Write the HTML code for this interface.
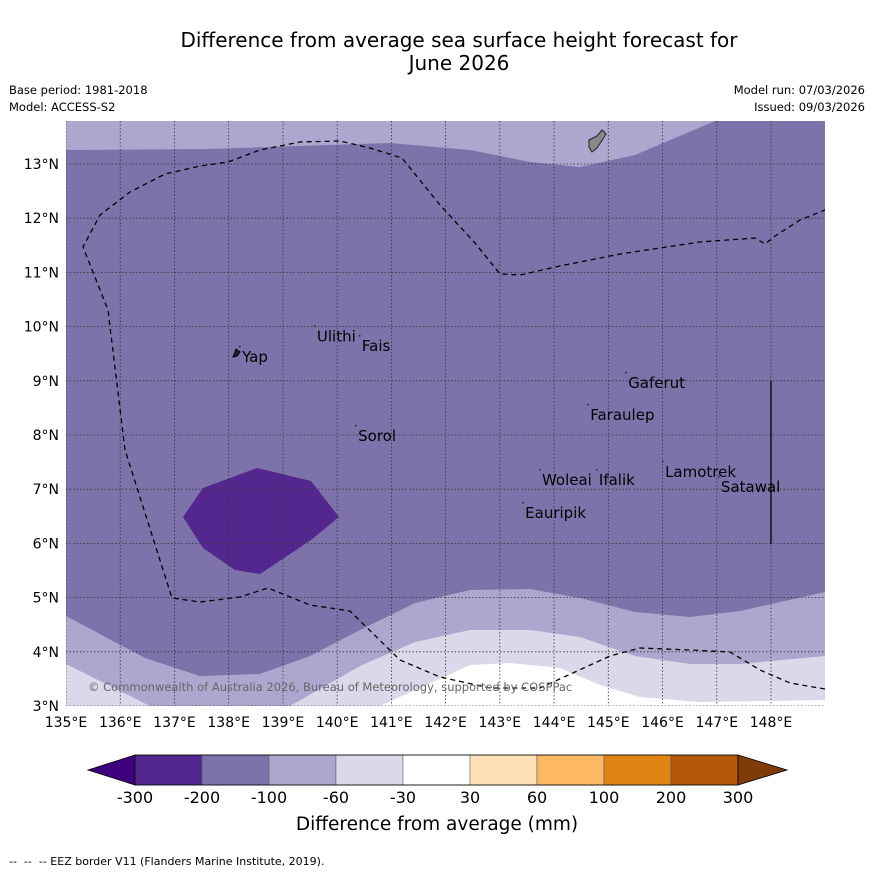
<!DOCTYPE html>
<html><head><meta charset="utf-8"><style>
body{margin:0;background:#fff;font-family:"Liberation Sans","DejaVu Sans",sans-serif}
svg text{font-family:"DejaVu Sans","Liberation Sans",sans-serif;white-space:pre}
</style></head><body>
<svg id="s" width="873" height="873" viewBox="0 0 873 873" xmlns="http://www.w3.org/2000/svg">
<text x="459" y="47" font-size="20" text-anchor="middle">Difference from average sea surface height forecast for</text>
<text x="459" y="70" font-size="20" text-anchor="middle">June 2026</text>
<text x="9" y="94" font-size="11.5">Base period: 1981-2018</text>
<text x="9" y="111" font-size="11.5">Model: ACCESS-S2</text>
<text x="865" y="94" font-size="11.5" text-anchor="end">Model run: 07/03/2026</text>
<text x="865" y="111" font-size="11.5" text-anchor="end">Issued: 09/03/2026</text>
<defs><clipPath id="c"><rect x="66" y="121" width="759" height="585"/></clipPath></defs>
<g id="map" clip-path="url(#c)"></g>
<g id="ax"></g>
<g id="cb"></g>
<text x="437" y="830" font-size="18.5" text-anchor="middle">Difference from average (mm)</text>
<text x="9" y="865" font-size="11" xml:space="preserve">--  --  -- EEZ border V11 (Flanders Marine Institute, 2019).</text>
</svg>
<script>
const lonTicks=[135,136,137,138,139,140,141,142,143,144,145,146,147,148];
const latTicks=[3,4,5,6,7,8,9,10,11,12,13];
const cbLabels=["-300","-200","-100","-60","-30","30","60","100","200","300"];
const cbColors=["#54278f","#7e72ab","#ada6cf","#d9d9ea","#ffffff","#fee0b6","#fdb863","#e08214","#b35806"];
const places=[["Ulithi",139.59,9.84],["Fais",140.42,9.66],["Yap",138.21,9.46],["Gaferut",145.33,8.98],["Faraulep",144.63,8.39],["Sorol",140.35,8.0],["Lamotrek",146.01,7.34],["Woleai",143.74,7.19],["Ifalik",144.79,7.19],["Satawal",147.04,7.06],["Eauripik",143.43,6.58]];
const X=lon=>66+(lon-135)*54.23, Y=lat=>706-(lat-3)*54.2;
const ns="http://www.w3.org/2000/svg";
function mk(p,t,a){const e=document.createElementNS(ns,t);for(const k in a)e.setAttribute(k,a[k]);p.appendChild(e);return e;}
const map=document.getElementById('map');
const shapes=[
["#7e72ab","66,121 825,121 825,706 66,706"],
["#ada6cf","66,121 715,121 635,155 580,167 530,162 470,150 390,143 210,149 66,150"],
["#ada6cf","66,616 145,658 200,676 260,674 310,656 360,630 415,603 470,590 530,589 580,598 635,612 690,617 740,611 825,592 825,706 66,706"],
["#d9d9ea","66,664 110,686 150,706 66,706"],
["#d9d9ea","290,706 360,666 415,642 470,630 530,630 580,637 635,656 690,664 740,664 825,656 825,706"],
["#ffffff","380,706 420,688 470,665 510,663 560,668 600,685 640,697 700,702 825,700 825,706"],
["#54278f","183,517 203,488 257,468 311,481 339,517 311,540 260,574 235,570 203,548"]];
shapes.forEach((s,i)=>{const e=mk(map,'polygon',{points:s[1],fill:s[0]});

});
lonTicks.forEach(l=>{const e=mk(map,'line',{x1:X(l),x2:X(l),y1:121,y2:706,stroke:'#333','stroke-width':0.8,'stroke-dasharray':'1.5,2'});

});
latTicks.forEach(l=>{const e=mk(map,'line',{x1:66,x2:825,y1:Y(l),y2:Y(l),stroke:'#333','stroke-width':0.8,'stroke-dasharray':'1.5,2'});

});
const eez=mk(map,'polyline',{fill:'none',stroke:'#000','stroke-width':1.3,'stroke-dasharray':'5,4',points:"825,689 790,683 760,670 730,652 690,650 640,648 610,656 540,688 490,688 440,677 400,660 350,611 310,605 268,588 240,597 200,602 172,598 125,450 108,310 83,247 100,215 130,192 165,174 200,166 228,162 260,150 300,142 340,141 370,148 402,158 440,205 475,243 500,274 520,275 560,266 620,254 700,242 755,238 765,244 775,236 800,220 825,210"});


const vl=mk(map,'line',{x1:771,x2:771,y1:381,y2:544,stroke:'#111','stroke-width':1.5});


const guam=mk(map,'polygon',{points:"589,140 597,136 602,130 606,134 601,142 597,148 592,152 589,147",fill:'#888',stroke:'#222','stroke-width':1});


const yap=mk(map,'polygon',{points:"233,357 236,349 240,352 237,356",fill:'#222',stroke:'#000','stroke-width':1});


places.forEach(p=>{const t=mk(map,'text',{x:X(p[1])+2,y:Y(p[2])+6,'font-size':15});t.textContent=p[0];


const d=mk(map,'rect',{x:X(p[1])-1,y:Y(p[2])-10,width:1.5,height:1.5,fill:'#222'});

});
const cp=mk(map,'text',{x:88,y:691,'font-size':11.5,fill:'#666'});cp.textContent="© Commonwealth of Australia 2026, Bureau of Meteorology, supported by COSPPac";


const ax=document.getElementById('ax');
lonTicks.forEach(l=>{const t=mk(ax,'text',{x:X(l),y:727,'font-size':14,'text-anchor':'middle'});t.textContent=l+"°E";

});
latTicks.forEach(l=>{const t=mk(ax,'text',{x:59,y:Y(l)+5,'font-size':14,'text-anchor':'end'});t.textContent=l+"°N";

});
const cb=document.getElementById('cb');
const x0=135,x1=738,w=(x1-x0)/cbColors.length;
const la=mk(cb,'polygon',{points:`${x0},755 ${x0},785 88,770`,fill:'#3f007d',stroke:'#000','stroke-width':0.8});


const ra=mk(cb,'polygon',{points:`${x1},755 ${x1},785 787,770`,fill:'#7f3b08',stroke:'#000','stroke-width':0.8});


cbColors.forEach((c,i)=>{const r=mk(cb,'rect',{x:x0+i*w,y:755,width:w,height:30,fill:c,stroke:'#555','stroke-width':0.5});

});
mk(cb,'rect',{x:x0,y:755,width:x1-x0,height:30,fill:'none',stroke:'#000','stroke-width':0.8});
cbLabels.forEach((l,i)=>{const t=mk(cb,'text',{x:x0+i*w,y:803,'font-size':16,'text-anchor':'middle'});t.textContent=l;

});
</script>
</body></html>
